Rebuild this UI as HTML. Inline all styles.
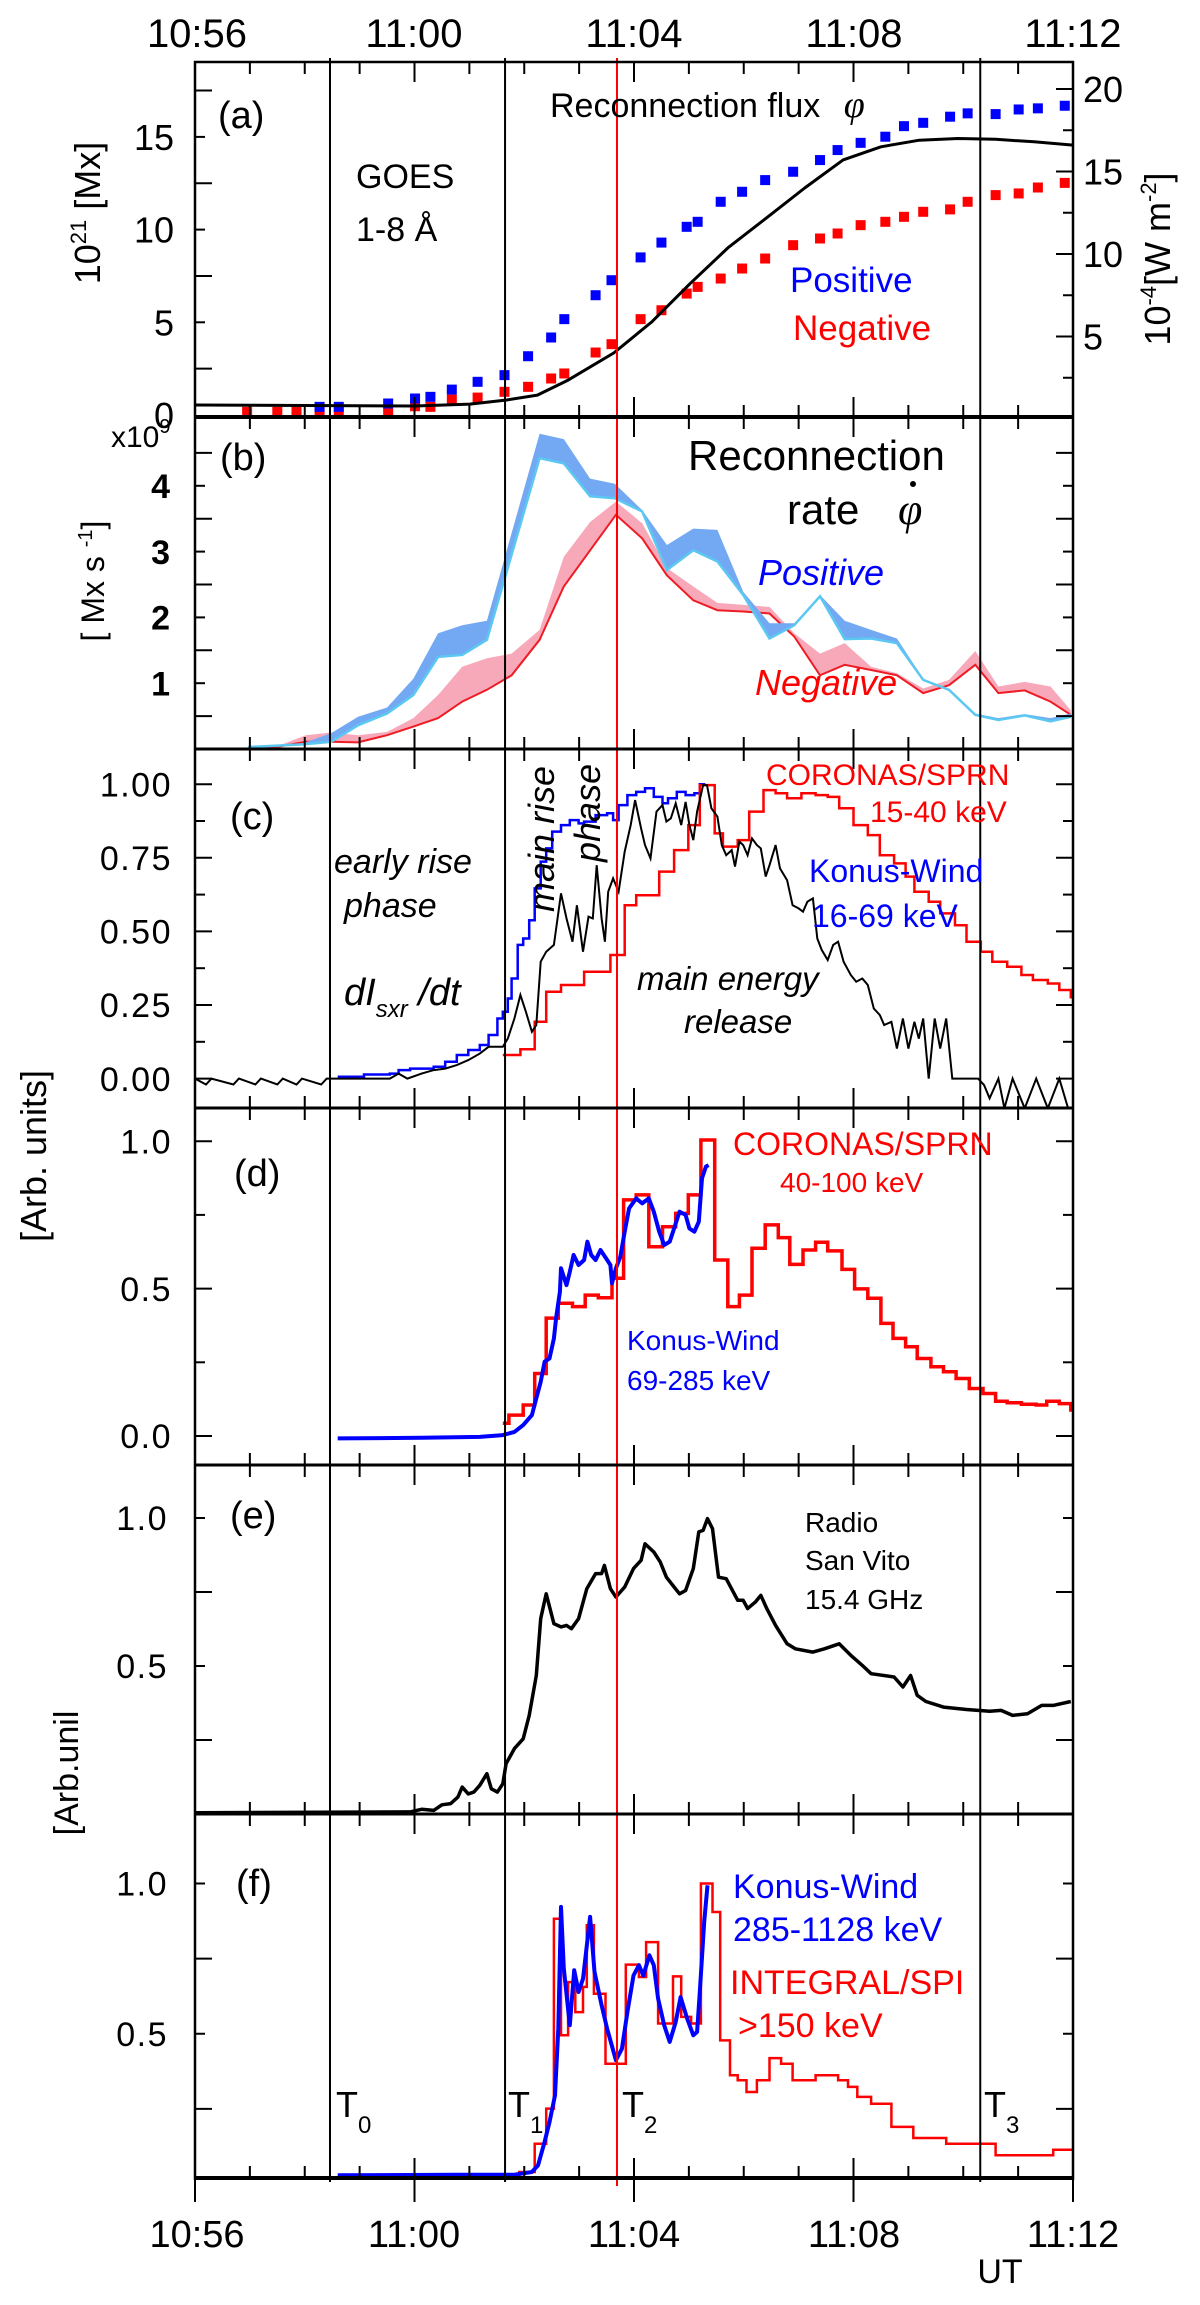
<!DOCTYPE html>
<html><head><meta charset="utf-8"><title>Reconnection flux and HXR</title>
<style>
html,body{margin:0;padding:0;background:#fff;}
svg{display:block;font-family:"Liberation Sans",Arial,sans-serif;}
</style></head>
<body>
<svg id="chart" xmlns="http://www.w3.org/2000/svg" width="1200" height="2305" viewBox="0 0 1200 2305">
<rect x="0" y="0" width="1200" height="2305" fill="#fff"/>
<defs>
<clipPath id="cpa"><rect x="195" y="62" width="878" height="355"/></clipPath>
<clipPath id="cpb"><rect x="195" y="418" width="878" height="331"/></clipPath>
<clipPath id="cpc"><rect x="195" y="750" width="878" height="358"/></clipPath>
<clipPath id="cpd"><rect x="195" y="1109" width="878" height="356"/></clipPath>
<clipPath id="cpe"><rect x="195" y="1466" width="878" height="348"/></clipPath>
<clipPath id="cpf"><rect x="195" y="1815" width="878" height="363"/></clipPath>
</defs>
<g id="layer"></g>

<g font-size="40" text-anchor="middle" fill="#000">
<text x="197" y="47">10:56</text>
<text x="414" y="47">11:00</text>
<text x="634" y="47">11:04</text>
<text x="854" y="47">11:08</text>
<text x="1073" y="47">11:12</text>
</g>
<g font-size="38" text-anchor="middle" fill="#000">
<text x="197" y="2247">10:56</text>
<text x="414" y="2247">11:00</text>
<text x="634" y="2247">11:04</text>
<text x="854" y="2247">11:08</text>
<text x="1073" y="2247">11:12</text>
<text x="1000" y="2283" font-size="34">UT</text>
</g>

<text transform="translate(100,213) rotate(-90)" text-anchor="middle" font-size="36">10<tspan font-size="22" dy="-14">21</tspan><tspan dy="14"> [Mx]</tspan></text>
<text transform="translate(1170,259) rotate(-90)" text-anchor="middle" font-size="36">10<tspan font-size="22" dy="-14">-4</tspan><tspan dy="14">[W m</tspan><tspan font-size="22" dy="-14">-2</tspan><tspan dy="14">]</tspan></text>
<text transform="translate(104,581) rotate(-90)" text-anchor="middle" font-size="32">[ Mx s <tspan font-size="20" dy="-12">-1</tspan><tspan dy="12">]</tspan></text>
<text x="111" y="447" font-size="30">x10<tspan font-size="20" dy="-14">9</tspan></text>
<text transform="translate(46,1156) rotate(-90)" text-anchor="middle" font-size="36">[Arb. units]</text>
<text transform="translate(78,1773) rotate(-90)" text-anchor="middle" font-size="34">[Arb.unil</text>

<g font-size="38" fill="#000">
<text x="218" y="128">(a)</text>
<text x="220" y="470">(b)</text>
<text x="230" y="829">(c)</text>
<text x="234" y="1186">(d)</text>
<text x="230" y="1528">(e)</text>
<text x="236" y="1896">(f)</text>
</g>

<text x="550" y="117" font-size="34">Reconnection flux <tspan font-family="'Liberation Serif',serif" font-style="italic" font-size="38" dx="14">φ</tspan></text>
<text x="356" y="188" font-size="34">GOES</text>
<text x="356" y="241" font-size="34">1-8 Å</text>
<text x="790" y="292" font-size="35" fill="#0000ff">Positive</text>
<text x="793" y="340" font-size="35" fill="#ff0000">Negative</text>

<text x="688" y="470" font-size="42">Reconnection</text>
<text x="787" y="524" font-size="42">rate</text>
<text x="898" y="524" font-size="44" font-style="italic" font-family="'Liberation Serif',serif">φ</text>
<circle cx="913" cy="484" r="3" fill="#000"/>
<text x="758" y="585" font-size="36" font-style="italic" fill="#0000ff">Positive</text>
<text x="755" y="695" font-size="36" font-style="italic" fill="#ff0000">Negative</text>

<text x="766" y="785" font-size="30" fill="#ff0000">CORONAS/SPRN</text>
<text x="870" y="822" font-size="30" fill="#ff0000">15-40 keV</text>
<text x="809" y="882" font-size="32" fill="#0000ff">Konus-Wind</text>
<text x="812" y="927" font-size="32" fill="#0000ff">16-69 keV</text>
<text x="334" y="873" font-size="34" font-style="italic">early rise</text>
<text x="344" y="917" font-size="34" font-style="italic">phase</text>
<text x="344" y="1005" font-size="38" font-style="italic">dI<tspan font-size="24" dy="12">sxr</tspan><tspan dy="-12"> /dt</tspan></text>
<text transform="translate(554,912) rotate(-90)" font-size="36" font-style="italic">main rise</text>
<text transform="translate(600,862) rotate(-90)" font-size="36" font-style="italic">phase</text>
<text x="637" y="990" font-size="33" font-style="italic">main energy</text>
<text x="684" y="1033" font-size="33" font-style="italic">release</text>

<text x="733" y="1155" font-size="32" fill="#ff0000">CORONAS/SPRN</text>
<text x="780" y="1192" font-size="28" fill="#ff0000">40-100 keV</text>
<text x="627" y="1350" font-size="28" fill="#0000ff">Konus-Wind</text>
<text x="627" y="1390" font-size="28" fill="#0000ff">69-285 keV</text>

<text x="805" y="1532" font-size="28">Radio</text>
<text x="805" y="1570" font-size="28">San Vito</text>
<text x="805" y="1609" font-size="28">15.4 GHz</text>

<text x="733" y="1898" font-size="34" fill="#0000ff">Konus-Wind</text>
<text x="733" y="1941" font-size="34" fill="#0000ff">285-1128 keV</text>
<text x="730" y="1994" font-size="34" fill="#ff0000">INTEGRAL/SPI</text>
<text x="738" y="2037" font-size="34" fill="#ff0000">&gt;150 keV</text>
<g font-size="36">
<text x="336" y="2117">T<tspan font-size="24" dy="16">0</tspan></text>
<text x="508" y="2117">T<tspan font-size="24" dy="16">1</tspan></text>
<text x="622" y="2117">T<tspan font-size="24" dy="16">2</tspan></text>
<text x="984" y="2117">T<tspan font-size="24" dy="16">3</tspan></text>
</g>
</svg>

<script>
const markerTimes = [2.46, 5.65, 14.31];
const redMarkerTime = 7.69;

const aTimes = [0.95,1.5,1.85,2.27,2.62,3.52,4.01,4.29,4.68,5.15,5.64,6.07,6.49,6.73,7.3,7.59,8.12,8.5,8.96,9.16,9.58,9.97,10.39,10.9,11.39,11.71,12.13,12.58,12.92,13.27,13.76,14.08,14.59,15.01,15.36,15.85];
const aPositive = [null,null,null,0.44,0.44,0.62,0.89,0.98,1.37,1.79,2.15,3.17,4.18,5.17,6.46,7.27,8.5,9.3,10.15,10.42,11.5,12.04,12.67,13.12,13.75,14.29,14.68,15.01,15.58,15.76,16.09,16.27,16.23,16.48,16.54,16.68];
const aNegative = [0.17,0.17,0.17,0.17,0.17,0.26,0.47,0.44,0.83,0.94,1.25,1.52,1.97,2.24,3.37,3.82,5.17,5.65,6.55,6.91,7.36,7.9,8.44,9.16,9.52,9.79,10.24,10.42,10.69,10.96,11.09,11.5,11.86,11.95,12.27,12.52];
const goesTimes = [0,4.01,5.01,5.68,6.24,6.8,7.63,8.33,9.02,9.72,10.42,11.11,11.81,12.5,13.2,13.9,14.59,15.29,16];
const goesValues = [0.85,0.79,0.9,1.15,1.45,2.36,4.0,5.9,8.2,10.4,12.2,14.0,15.7,16.5,16.9,17.0,16.95,16.8,16.6];
const aLeftTicks = [0,5,10,15];
const aRightTicks = [5,10,15,20];

const bPosTimes = [0.97,1.97,2.48,2.97,3.5,3.98,4.43,4.87,5.32,6.28,6.72,7.2,7.65,8.15,8.6,9.08,9.52,9.99,10.47,10.92,11.39,11.84,12.32,12.79,13.27,13.74,14.22,14.64,15.12,15.59,15.96];
const bPosUpper = [0.04,0.09,0.24,0.49,0.63,1.07,1.76,1.88,1.95,4.79,4.71,4.11,4.03,3.63,3.1,3.35,3.33,2.39,1.91,1.91,2.34,1.95,1.81,1.68,1.07,0.9,0.54,0.47,0.53,0.47,0.54];
const bPosLower = [0.03,0.07,0.11,0.36,0.54,0.82,1.4,1.43,1.66,4.42,4.34,3.84,3.81,3.61,2.72,3.02,2.85,2.34,1.68,1.88,2.32,1.67,1.68,1.61,1.05,0.9,0.52,0.44,0.51,0.42,0.49];
const bNegTimes = [0.97,1.55,2.02,2.48,2.97,3.5,3.98,4.43,4.87,5.32,5.77,6.28,6.72,7.2,7.67,8.15,8.6,9.08,9.52,9.99,10.47,10.92,11.39,11.84,12.32,12.79,13.27,13.74,14.22,14.64,15.12,15.59,15.96];
const bNegUpper = [0.03,0.06,0.21,0.25,0.21,0.26,0.47,0.82,1.25,1.38,1.45,1.81,2.92,3.45,3.76,3.43,2.75,2.47,2.22,2.19,2.16,1.76,1.45,1.61,1.25,1.15,0.92,1.05,1.49,0.95,1.02,0.95,0.59];
const bNegLower = [0.03,0.04,0.11,0.11,0.1,0.21,0.34,0.47,0.72,0.9,1.12,1.66,2.47,3.02,3.56,3.2,2.64,2.26,2.11,2.09,2.06,1.71,1.12,1.28,1.2,1.12,0.85,0.97,1.28,0.85,0.89,0.72,0.52];
const bTicks = [1,2,3,4];

const cSxrTimes = [0,0.2,0.3,0.7,0.8,1.1,1.2,1.5,1.6,1.85,1.95,2.3,2.4,2.6,3.55,3.71,3.87,4.13,4.35,4.56,4.77,4.98,5.19,5.35,5.61,5.7,5.82,5.93,6.03,6.14,6.22,6.3,6.4,6.54,6.67,6.77,6.88,6.96,7.07,7.17,7.25,7.32,7.41,7.47,7.53,7.62,7.72,7.83,7.94,8.02,8.13,8.2,8.3,8.41,8.52,8.59,8.67,8.76,8.86,8.94,9.01,9.08,9.15,9.26,9.33,9.41,9.52,9.6,9.68,9.78,9.84,9.92,9.99,10.07,10.15,10.24,10.31,10.4,10.47,10.58,10.66,10.79,10.89,11.0,11.08,11.16,11.26,11.34,11.42,11.53,11.63,11.72,11.82,11.95,12.05,12.16,12.26,12.37,12.48,12.56,12.69,12.79,12.9,13.0,13.11,13.19,13.27,13.37,13.48,13.58,13.69,13.8,14.27,14.38,14.48,14.64,14.75,14.9,15.12,15.33,15.54,15.75,15.91];
const cSxrValues = [0,-0.02,0,-0.02,0,-0.02,0,-0.02,0,-0.02,0,-0.02,0,0,0,0.017,0,0.017,0.029,0.034,0.046,0.063,0.085,0.108,0.108,0.136,0.204,0.284,0.227,0.159,0.182,0.397,0.431,0.454,0.629,0.544,0.465,0.589,0.431,0.55,0.544,0.725,0.544,0.465,0.635,0.68,0.635,0.771,0.861,0.946,0.85,0.793,0.748,0.907,0.929,0.873,0.884,0.935,0.861,0.94,0.861,0.81,0.907,0.997,0.997,0.918,0.89,0.793,0.759,0.776,0.72,0.805,0.793,0.759,0.816,0.793,0.782,0.686,0.725,0.793,0.714,0.674,0.589,0.578,0.567,0.601,0.612,0.476,0.437,0.403,0.454,0.465,0.397,0.352,0.329,0.34,0.318,0.238,0.216,0.182,0.193,0.102,0.204,0.102,0.193,0.136,0.204,0,0.204,0.102,0.204,0,0,-0.022,-0.067,0,-0.101,0,-0.101,0,-0.101,0,-0.101];
const cKonusTimes = [2.6,3.08,3.55,3.71,3.92,4.35,4.56,4.77,4.98,5.19,5.35,5.51,5.61,5.7,5.77,5.88,5.98,6.09,6.19,6.3,6.4,6.51,6.67,6.83,6.99,7.09,7.3,7.51,7.62,7.72,7.88,8.04,8.2,8.36,8.52,8.62,8.78,8.94,9.1,9.2,9.3];
const cKonusValues = [0.006,0.014,0.017,0.029,0.034,0.04,0.057,0.08,0.097,0.114,0.148,0.204,0.227,0.272,0.34,0.454,0.476,0.538,0.646,0.737,0.782,0.839,0.861,0.878,0.867,0.873,0.895,0.901,0.878,0.929,0.963,0.974,0.986,0.957,0.935,0.952,0.974,0.963,0.969,1.0,1.0];
const cCoronasTimes = [5.61,5.93,6.19,6.4,6.67,7.09,7.57,7.83,8.04,8.46,8.73,8.99,9.2,9.47,9.62,9.89,10.1,10.36,10.58,10.79,11.05,11.31,11.53,11.74,12.0,12.26,12.48,12.74,12.95,13.11,13.37,13.58,13.85,14.06,14.32,14.53,14.8,15.06,15.27,15.54,15.75,15.96];
const cCoronasValues = [0.08,0.1,0.193,0.295,0.318,0.363,0.42,0.589,0.623,0.703,0.776,0.861,0.997,0.833,0.788,0.81,0.907,0.98,0.969,0.952,0.969,0.963,0.957,0.918,0.861,0.827,0.759,0.731,0.686,0.635,0.601,0.561,0.521,0.465,0.431,0.397,0.38,0.352,0.335,0.323,0.301,0.272];
const cTicks = [0,0.25,0.5,0.75,1.0];
const cTickLabels = ["0.00","0.25","0.50","0.75","1.00"];

const dKonusTimes = [2.6,4.13,5.19,5.61,5.82,5.98,6.14,6.22,6.3,6.37,6.46,6.54,6.58,6.65,6.67,6.77,6.83,6.9,6.99,7.09,7.15,7.22,7.3,7.39,7.49,7.57,7.6,7.67,7.75,7.83,7.91,8.04,8.15,8.27,8.36,8.46,8.55,8.65,8.73,8.83,8.94,9.01,9.1,9.18,9.24,9.31,9.36];
const dKonusValues = [-0.008,-0.006,-0.003,0.003,0.014,0.037,0.071,0.128,0.184,0.252,0.263,0.331,0.4,0.489,0.569,0.512,0.557,0.614,0.58,0.597,0.659,0.614,0.597,0.631,0.603,0.58,0.518,0.569,0.608,0.693,0.772,0.806,0.789,0.806,0.761,0.693,0.648,0.659,0.704,0.761,0.75,0.704,0.693,0.727,0.874,0.914,0.919];
const dCoronasTimes = [5.61,5.72,5.98,6.19,6.4,6.62,6.88,7.11,7.35,7.6,7.81,8.04,8.27,8.52,8.76,8.99,9.22,9.47,9.71,9.92,10.15,10.39,10.63,10.84,11.08,11.31,11.53,11.79,12.02,12.26,12.5,12.72,12.95,13.16,13.41,13.64,13.87,14.11,14.36,14.59,14.8,15.06,15.33,15.52,15.75,15.96];
const dCoronasValues = [0.043,0.071,0.105,0.212,0.4,0.45,0.439,0.478,0.469,0.535,0.801,0.818,0.642,0.71,0.755,0.818,1.004,0.597,0.439,0.478,0.637,0.716,0.673,0.582,0.631,0.657,0.628,0.565,0.499,0.467,0.382,0.331,0.303,0.263,0.235,0.218,0.195,0.161,0.144,0.118,0.113,0.108,0.105,0.118,0.11,0.082];
const dTicks = [0,0.5,1.0];
const dTickLabels = ["0.0","0.5","1.0"];

const eTimes = [0,3.92,4.13,4.35,4.5,4.66,4.79,4.87,4.98,5.08,5.19,5.32,5.4,5.51,5.61,5.67,5.82,5.98,6.09,6.22,6.3,6.4,6.54,6.67,6.77,6.86,6.99,7.14,7.3,7.41,7.46,7.57,7.67,7.83,7.99,8.13,8.2,8.36,8.48,8.59,8.73,8.83,8.94,9.08,9.18,9.26,9.34,9.43,9.54,9.68,9.89,9.99,10.07,10.21,10.31,10.42,10.58,10.79,10.94,11.26,11.47,11.74,11.95,12.16,12.32,12.74,12.9,13.04,13.16,13.32,13.64,14.06,14.48,14.69,14.9,15.17,15.43,15.64,15.96];
const eValues = [0.004,0.007,0.016,0.012,0.031,0.035,0.057,0.091,0.068,0.074,0.097,0.136,0.085,0.074,0.102,0.17,0.221,0.254,0.333,0.468,0.66,0.744,0.643,0.632,0.637,0.626,0.66,0.761,0.812,0.812,0.84,0.761,0.733,0.767,0.829,0.857,0.913,0.885,0.851,0.8,0.767,0.744,0.755,0.829,0.953,0.958,0.998,0.964,0.8,0.795,0.722,0.722,0.694,0.716,0.739,0.694,0.637,0.575,0.558,0.547,0.558,0.575,0.536,0.502,0.474,0.463,0.429,0.468,0.401,0.38,0.361,0.353,0.347,0.35,0.333,0.339,0.367,0.367,0.38];
const eTicks = [0.5,1.0];
const eTickLabels = ["0.5","1.0"];

const fKonusTimes = [2.6,4.77,5.82,6.14,6.25,6.37,6.46,6.56,6.62,6.67,6.72,6.83,6.91,6.99,7.07,7.2,7.28,7.41,7.51,7.67,7.78,7.88,7.99,8.09,8.17,8.28,8.36,8.44,8.55,8.65,8.76,8.85,8.97,9.08,9.15,9.2,9.28,9.34];
const fKonusValues = [0.029,0.031,0.031,0.04,0.062,0.14,0.206,0.295,0.517,0.922,0.717,0.528,0.711,0.639,0.683,0.889,0.706,0.595,0.517,0.412,0.45,0.572,0.694,0.728,0.694,0.761,0.728,0.617,0.528,0.473,0.539,0.622,0.55,0.495,0.506,0.639,0.872,0.994];
const fIntegralTimes = [4.82,5.91,6.19,6.4,6.54,6.67,6.8,6.93,7.07,7.14,7.27,7.48,7.85,8.09,8.22,8.44,8.71,8.86,9.04,9.22,9.43,9.57,9.75,9.89,10.05,10.24,10.47,10.68,10.89,11.31,11.72,11.9,12.07,12.32,12.69,13.09,13.69,14.59,15.64,16];
const fIntegralValues = [0.018,0.04,0.134,0.251,0.883,0.495,0.672,0.572,0.656,0.861,0.633,0.4,0.73,0.689,0.805,0.534,0.691,0.556,0.534,1.0,0.905,0.478,0.362,0.345,0.306,0.345,0.419,0.4,0.345,0.362,0.345,0.323,0.29,0.267,0.19,0.153,0.134,0.096,0.114,0.114];
const fTicks = [0.5,1.0];
const fTickLabels = ["0.5","1.0"];

const X0 = 195, X1 = 1073, TMAX = 16;
function xs(t){ return X0 + (X1 - X0) * t / TMAX; }
const ya = v => 415 - v * 18.54;
const yaR = v => 419 - v * 16.5;
const yb = v => 749 - v * 65.8;
const yc = v => 1078.6 - v * 294.4;
const yd = v => 1436 - v * 294.8;
const ye = v => 1814 - v * 296;
const yf = v => 2184 - v * 300.5;

const NS = "http://www.w3.org/2000/svg";
const layer = document.getElementById('layer');
function mk(tag, attrs, parent){
  const el = document.createElementNS(NS, tag);
  for (const k in attrs) el.setAttribute(k, attrs[k]);
  (parent || layer).appendChild(el);
  return el;
}
function linePath(ts, vs, ym){
  let d = '';
  for (let i = 0; i < ts.length; i++){
    if (vs[i] === null) continue;
    d += (d ? ' L' : 'M') + xs(ts[i]).toFixed(1) + ',' + ym(vs[i]).toFixed(1);
  }
  return d;
}
function stepPath(ts, vs, ym){
  let d = 'M' + xs(ts[0]).toFixed(1) + ',' + ym(vs[0]).toFixed(1);
  for (let i = 1; i < ts.length; i++){
    d += ' H' + xs(ts[i]).toFixed(1) + ' V' + ym(vs[i]).toFixed(1);
  }
  return d;
}
function bandPath(ts, up, lo, ym){
  let d = '';
  for (let i = 0; i < ts.length; i++) d += (i ? ' L' : 'M') + xs(ts[i]).toFixed(1) + ',' + ym(up[i]).toFixed(1);
  for (let i = ts.length - 1; i >= 0; i--) d += ' L' + xs(ts[i]).toFixed(1) + ',' + ym(lo[i]).toFixed(1);
  return d + ' Z';
}

const gb = mk('g', {'clip-path':'url(#cpb)'});


let el;
el = mk('path', {d: bandPath(bNegTimes, bNegUpper, bNegLower, yb), fill:'#f7a9b9', stroke:'none'}, gb);


el = mk('path', {d: linePath(bNegTimes, bNegLower, yb), fill:'none', stroke:'#ee1c25', 'stroke-width':2}, gb);


el = mk('path', {d: bandPath(bPosTimes, bPosUpper, bPosLower, yb), fill:'#72a9f2', stroke:'none'}, gb);


el = mk('path', {d: linePath(bPosTimes, bPosLower, yb), fill:'none', stroke:'#5cc8f2', 'stroke-width':2.5}, gb);



const ga = mk('g', {'clip-path':'url(#cpa)'});


for (let i = 0; i < aTimes.length; i++){
  const r = mk('rect', {x: xs(aTimes[i]) - 5, y: ya(aNegative[i]) - 5, width: 10, height: 10, fill:'#ff0000'}, ga);
  
  
  if (aPositive[i] !== null){
    const b = mk('rect', {x: xs(aTimes[i]) - 5, y: ya(aPositive[i]) - 5, width: 10, height: 10, fill:'#0000ff'}, ga);
    
    
  }
}
el = mk('path', {d: linePath(goesTimes, goesValues, yaR), fill:'none', stroke:'#000', 'stroke-width':3, 'stroke-linejoin':'round'}, ga);



const gc = mk('g', {'clip-path':'url(#cpc)'});


el = mk('path', {d: stepPath(cKonusTimes, cKonusValues, yc), fill:'none', stroke:'#0000ff', 'stroke-width':2.5}, gc);


el = mk('path', {d: stepPath(cCoronasTimes, cCoronasValues, yc), fill:'none', stroke:'#ff0000', 'stroke-width':2.5}, gc);


el = mk('path', {d: linePath(cSxrTimes, cSxrValues, yc), fill:'none', stroke:'#000', 'stroke-width':2}, gc);



const gd = mk('g', {'clip-path':'url(#cpd)'});


el = mk('path', {d: stepPath(dCoronasTimes, dCoronasValues, yd), fill:'none', stroke:'#ff0000', 'stroke-width':3.5}, gd);


el = mk('path', {d: linePath(dKonusTimes, dKonusValues, yd), fill:'none', stroke:'#0000ff', 'stroke-width':4, 'stroke-linejoin':'round'}, gd);



const ge = mk('g', {'clip-path':'url(#cpe)'});


el = mk('path', {d: linePath(eTimes, eValues, ye), fill:'none', stroke:'#000', 'stroke-width':3.5, 'stroke-linejoin':'round'}, ge);



const gf = mk('g', {'clip-path':'url(#cpf)'});


el = mk('path', {d: stepPath(fIntegralTimes, fIntegralValues, yf), fill:'none', stroke:'#ff0000', 'stroke-width':2.5}, gf);


el = mk('path', {d: linePath(fKonusTimes, fKonusValues, yf), fill:'none', stroke:'#0000ff', 'stroke-width':4, 'stroke-linejoin':'round'}, gf);



for (let i = 0; i < markerTimes.length; i++){
  const m = mk('line', {x1: xs(markerTimes[i]), x2: xs(markerTimes[i]), y1: 58, y2: 2182, stroke:'#000', 'stroke-width':2});
  
  
}
el = mk('line', {x1: xs(redMarkerTime), x2: xs(redMarkerTime), y1: 58, y2: 2186, stroke:'#ff0000', 'stroke-width':2});



const panelEdges = [62, 417, 749, 1108, 1465, 1814, 2178];
const edgeWidths = [2.5, 4, 3, 3, 3, 3, 4];
for (let i = 0; i < panelEdges.length; i++){
  const h = mk('line', {x1: X0 - 1, x2: X1 + 1, y1: panelEdges[i], y2: panelEdges[i], stroke:'#000', 'stroke-width': edgeWidths[i]});
  
  
}
el = mk('line', {x1: X0, x2: X0, y1: 61, y2: 2180, stroke:'#000', 'stroke-width':2.5});


el = mk('line', {x1: X1, x2: X1, y1: 61, y2: 2180, stroke:'#000', 'stroke-width':2.5});



for (let p = 0; p < panelEdges.length; p++){
  for (let m = 1; m < TMAX; m++){
    const len = (m % 4 === 0) ? 20 : 12;
    const x = xs(m);
    if (p < panelEdges.length - 1){
      const t = mk('line', {x1: x, x2: x, y1: panelEdges[p], y2: panelEdges[p] + len, stroke:'#000', 'stroke-width':2});
      
      
    }
    if (p > 0){
      const t2 = mk('line', {x1: x, x2: x, y1: panelEdges[p], y2: panelEdges[p] - len, stroke:'#000', 'stroke-width':2});
      
      
    }
  }
  if (p === panelEdges.length - 1){
    for (let m = 0; m <= TMAX; m++){
      const len = (m % 4 === 0) ? 24 : 0;
      if (!len) continue;
      const t3 = mk('line', {x1: xs(m), x2: xs(m), y1: 2178, y2: 2178 + len, stroke:'#000', 'stroke-width':2});
      
      
    }
  }
}

function yTicks(ym, from, to, step, majorEvery, both){
  for (let v = from, k = 0; v <= to + 1e-9; v += step, k++){
    const major = (k % majorEvery === 0);
    const len = major ? 17 : 10;
    const y = ym(v);
    const t = mk('line', {x1: X0, x2: X0 + len, y1: y, y2: y, stroke:'#000', 'stroke-width':2});
    
    
    if (both){
      const t2 = mk('line', {x1: X1, x2: X1 - len, y1: y, y2: y, stroke:'#000', 'stroke-width':2});
      
      
    }
  }
}
yTicks(ya, 2.5, 17.5, 2.5, 2, false);
for (let v = 2.5, k = 1; v <= 20.01; v += 2.5, k++){
  const len = (k % 2 === 0) ? 17 : 10;
  const t = mk('line', {x1: X1, x2: X1 - len, y1: yaR(v), y2: yaR(v), stroke:'#000', 'stroke-width':2});
  
  
}
yTicks(yb, 0.5, 4.5, 0.5, 2, true);
yTicks(yc, 0, 1.0, 0.125, 2, true);
yTicks(yd, 0, 1.0, 0.25, 2, true);
yTicks(ye, 0.25, 1.0, 0.25, 2, true);
yTicks(yf, 0.25, 1.0, 0.25, 2, true);

function yLabel(x, y, txt, size, anchor){
  const t = mk('text', {x: x, y: y + size * 0.36, 'font-size': size, 'text-anchor': anchor || 'end', fill:'#000'});
  t.textContent = txt;
  return t;
}
for (let i = 0; i < aLeftTicks.length; i++){
  el = yLabel(174, ya(aLeftTicks[i]), String(aLeftTicks[i]), 36);
  
  
}
for (let i = 0; i < aRightTicks.length; i++){
  el = yLabel(1083, yaR(aRightTicks[i]), String(aRightTicks[i]), 36, 'start');
  
  
}
for (let i = 0; i < bTicks.length; i++){
  el = yLabel(170, yb(bTicks[i]), String(bTicks[i]), 34);
  
  
  el.setAttribute('font-weight', 'bold');
}
for (let i = 0; i < cTicks.length; i++){
  el = yLabel(172, yc(cTicks[i]), cTickLabels[i], 34);
  
  
  el.setAttribute('letter-spacing', '1.5');
}
for (let i = 0; i < dTicks.length; i++){
  el = yLabel(172, yd(dTicks[i]), dTickLabels[i], 34);
  
  
  el.setAttribute('letter-spacing', '1.5');
}
for (let i = 0; i < eTicks.length; i++){
  el = yLabel(168, ye(eTicks[i]), eTickLabels[i], 34);
  
  
  el.setAttribute('letter-spacing', '1.5');
}
for (let i = 0; i < fTicks.length; i++){
  el = yLabel(168, yf(fTicks[i]), fTickLabels[i], 34);
  
  
  el.setAttribute('letter-spacing', '1.5');
}
</script>
</body></html>
